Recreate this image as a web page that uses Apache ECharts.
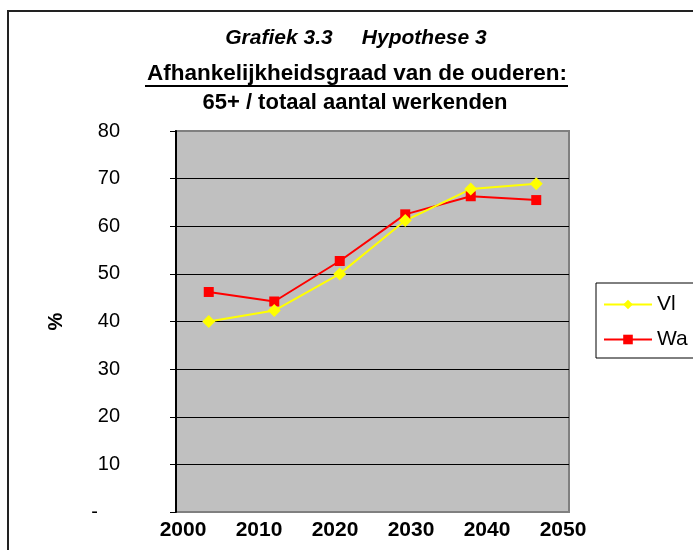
<!DOCTYPE html>
<html>
<head>
<meta charset="utf-8">
<script src="https://cdn.jsdelivr.net/npm/echarts@6/dist/echarts.min.js"></script>
<style>
  html, body { margin: 0; padding: 0; background: #fff; }
  #main { width: 693px; height: 550px; }
</style>
</head>
<body>
<div id="main"></div>
<script>
// six measurement points, plotted as categories (Excel line chart)
const periods = ['1', '2', '3', '4', '5', '6']
const vl = [40, 42.3, 50, 61.2, 67.8, 68.9]
const wa = [46.2, 44.2, 52.7, 62.5, 66.3, 65.5]
const yearTicks = [2000, 2010, 2020, 2030, 2040, 2050]

const font = 'Liberation Sans, Arial, sans-serif'

const chartDom = document.getElementById('main')
const myChart = echarts.init(chartDom)
var option
option = {
  backgroundColor: '#fff',
  title: [
    {
      text: 'Grafiek 3.3     Hypothese 3',
      left: 356, top: 28, padding: 0, textAlign: 'center',
      textStyle: { fontFamily: font, fontSize: 21, fontWeight: 'bold', fontStyle: 'italic', color: '#000' }
    },
    {
      text: 'Afhankelijkheidsgraad van de ouderen:',
      left: 357, top: 62, padding: 0, textAlign: 'center',
      textStyle: { fontFamily: font, fontSize: 22.5, fontWeight: 'bold', color: '#000' }
    },
    {
      text: '65+ / totaal aantal werkenden',
      left: 355, top: 92, padding: 0, textAlign: 'center',
      textStyle: { fontFamily: font, fontSize: 22, fontWeight: 'bold', color: '#000' }
    }
  ],
  graphic: [
    {
      type: 'line',
      shape: { x1: 145, y1: 86, x2: 568, y2: 86 },
      style: { stroke: '#000', lineWidth: 2 }
    },
    {
      type: 'rect',
      shape: { x: 8, y: 11, width: 800, height: 800 },
      style: { fill: null, stroke: '#222', lineWidth: 2 }
    }
  ],
  legend: {
    data: ['Vl', 'Wa'],
    orient: 'vertical',
    left: 596,
    top: 283,
    padding: [11, 40, 8, 7],
    itemWidth: 48,
    itemHeight: 12,
    itemGap: 14,
    borderColor: '#000',
    borderWidth: 1,
    textStyle: { fontFamily: font, fontSize: 21, color: '#000' }
  },
  grid: {
    left: 176,
    top: 131,
    right: 124,
    bottom: 38,
    show: true,
    backgroundColor: '#C0C0C0',
    borderColor: '#808080',
    borderWidth: 2
  },
  xAxis: [
    {
      type: 'category',
      boundaryGap: true,
      data: periods,
      axisLine: { show: false },
      axisTick: { show: false },
      axisLabel: { show: false }
    },
    {
      type: 'value',
      position: 'bottom',
      min: 1999.08,
      max: 2050.79,
      axisLine: { show: false },
      axisTick: { show: false },
      splitLine: { show: false },
      axisLabel: {
        customValues: yearTicks,
        formatter: function (v) { return String(v) },
        margin: 8,
        fontFamily: font,
        fontSize: 21,
        fontWeight: 'bold',
        color: '#000'
      }
    }
  ],
  yAxis: {
    type: 'value',
    min: 0,
    max: 80,
    interval: 10,
    name: '%',
    nameLocation: 'middle',
    nameGap: 110,
    nameRotate: 90,
    nameTextStyle: { fontFamily: font, fontSize: 20, fontWeight: 'bold', color: '#000' },
    axisLine: { show: true, lineStyle: { color: '#000', width: 2 } },
    axisTick: { show: true, length: 6, lineStyle: { color: '#000' } },
    axisLabel: {
      margin: 56,
      fontFamily: font,
      fontSize: 20,
      color: '#000',
      formatter: function (v) {
        return v === 0 ? '{z|-}' : String(v)
      },
      rich: {
        z: { fontFamily: font, fontSize: 20, color: '#000', padding: [0, 22, 0, 0] }
      }
    },
    splitLine: { show: true, showMinLine: false, showMaxLine: false, lineStyle: { color: '#000', width: 1 } }
  },
  series: [
    {
      name: 'Wa',
      type: 'line',
      data: wa,
      symbol: 'rect',
      symbolSize: 10,
      itemStyle: { color: '#FF0000' },
      lineStyle: { color: '#FF0000', width: 2 }
    },
    {
      name: 'Vl',
      type: 'line',
      data: vl,
      symbol: 'diamond',
      symbolSize: 13,
      itemStyle: { color: '#FFFF00' },
      lineStyle: { color: '#FFFF00', width: 2 }
    }
  ]
}
option && myChart.setOption(option)
</script>
</body>
</html>
